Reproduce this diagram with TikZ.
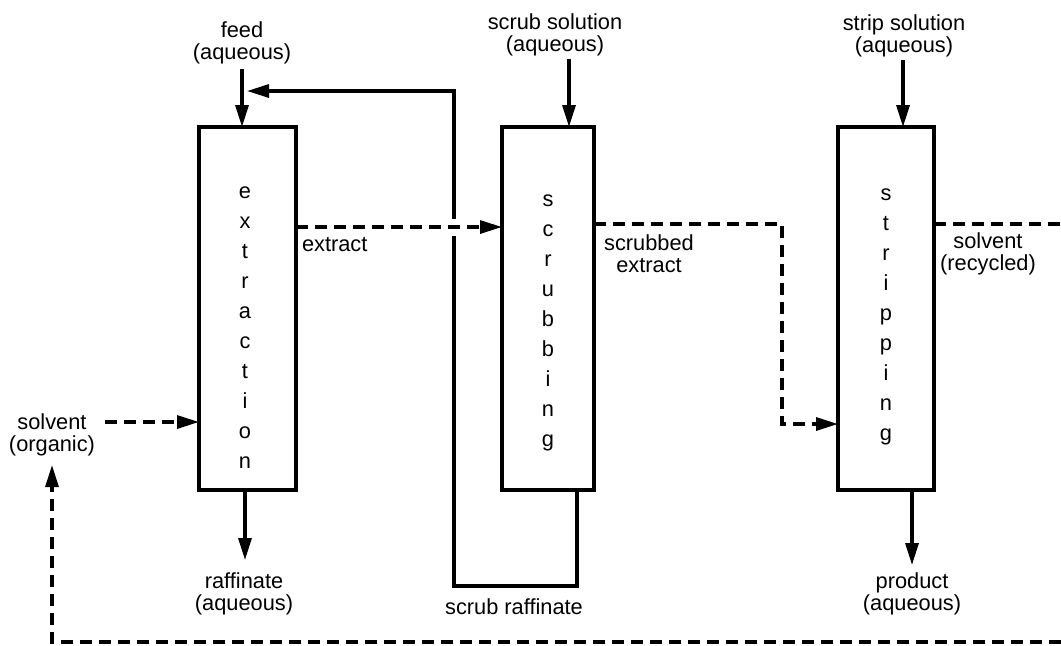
\documentclass[tikz,border=0pt]{standalone}
\usepackage{fontspec}
\setmainfont{Liberation Sans}
\usetikzlibrary{arrows.meta}

\begin{document}
\begin{tikzpicture}[x=0.5pt,y=-0.5pt,
  every node/.style={inner sep=0pt, outer sep=0pt},
  lbl/.style={align=center, font=\fontsize{10.9pt}{11pt}\selectfont},
  word/.style={align=center, anchor=north, font=\fontsize{10.9pt}{15pt}\selectfont},
  column/.style={draw, line width=1.6pt, minimum height=181.5pt},
  flow/.style={line width=1.6pt, -{Triangle[length=11pt,width=6.5pt]}},
  organic/.style={flow, dash pattern=on 6pt off 3.5pt},
  orgline/.style={line width=1.6pt, dash pattern=on 6pt off 3.5pt}
]
\useasboundingbox (0,0) rectangle (1061,645);

% the three contactor columns
\node[column, minimum width=48.5pt] (ext) at (247.5,308.5) {};
\node[column, minimum width=46pt]   (scr) at (548,308.5) {};
\node[column, minimum width=48pt]   (str) at (886,308.5) {};

\node[word] (extw) at (245,186.5) {e\\x\\t\\r\\a\\c\\t\\i\\o\\n};
\node[word] (scrw) at (548,194.5) {s\\c\\r\\u\\b\\b\\i\\n\\g};
\node[word] (strw) at (886,188.5) {s\\t\\r\\i\\p\\p\\i\\n\\g};

% stream labels
\node[lbl] (feed)    at (242,43)  {feed\\(aqueous)};
\node[lbl] (scrsol)  at (555,35)  {scrub solution\\(aqueous)};
\node[lbl] (strsol)  at (904,36)  {strip solution\\(aqueous)};
\node[lbl] (raff)    at (244,594) {raffinate\\(aqueous)};
\node[lbl] (prod)    at (912,594) {product\\(aqueous)};
\node[lbl] (solvin)  at (52,435)  {solvent\\(organic)};
\node[lbl] (solvrec) at (988,254) {solvent\\(recycled)};
\node[lbl] (scrext)  at (649,254) {scrubbed\\extract};
\node[lbl, anchor=west] (extr) at (302,245) {extract};
\node[lbl] (scrraff) at (514,607) {scrub raffinate};

% free ends of the streams
\coordinate (feedtail)   at (242,69);
\coordinate (scrtail)    at (569,59);
\coordinate (strtail)    at (903,60);
\coordinate (rafftip)    at (245,560);
\coordinate (prodtip)    at (912,565);
\coordinate (solvtail)   at (105,422);
\coordinate (rectail)    at (1061,224);
\coordinate (loopbottom) at (1061,642);
\coordinate (looptip)    at (52,465);
\coordinate (retx)       at (454,91);
\coordinate (sebend)     at (782,224);

% aqueous streams
\draw[flow] (feedtail) -- (feedtail |- ext.north);
\draw[flow] (scrtail) -- (scrtail |- scr.north);
\draw[flow] (strtail) -- (strtail |- str.north);
\draw[flow] (rafftip |- ext.south) -- (rafftip);
\draw[flow] (prodtip |- str.south) -- (prodtip);

% scrub raffinate returned to the feed point
\draw[flow] (scr.south -| 577,0) -- (577,586) -- (454,586) -- (retx) -- (247,91);

% organic streams
\fill[white] (448,219) rectangle (460,236);
\draw[organic] (ext.east |- 0,227) -- (scr.west |- 0,227);
\draw[organic] (scr.east |- sebend) -- (sebend) -- (782,424) -- (str.west |- 0,424);
\draw[organic] (solvtail) -- (ext.west |- solvtail);
\draw[orgline] (str.east |- rectail) -- (rectail);
\draw[organic] (loopbottom) -- (52,642) -- (looptip);
\end{tikzpicture}
\end{document}
